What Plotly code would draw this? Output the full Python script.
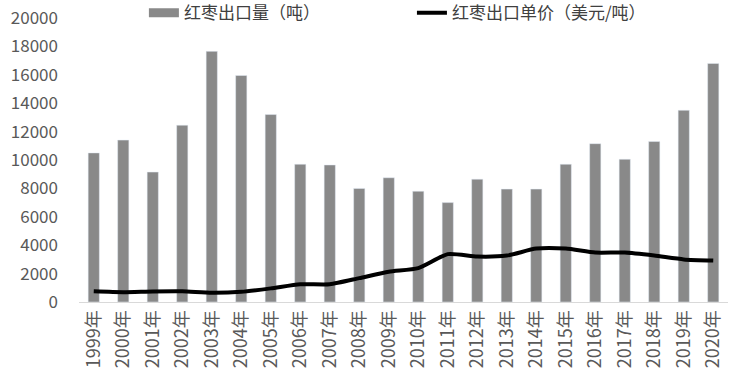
import plotly.graph_objects as go

years = ["1999年", "2000年", "2001年", "2002年", "2003年", "2004年", "2005年", "2006年",
         "2007年", "2008年", "2009年", "2010年", "2011年", "2012年", "2013年", "2014年",
         "2015年", "2016年", "2017年", "2018年", "2019年", "2020年"]
export_volume = [10500, 11400, 9150, 12450, 17650, 15950, 13200, 9700, 9650, 8000, 8750,
                 7800, 7000, 8650, 7950, 7950, 9700, 11150, 10050, 11300, 13500, 16800]
export_price = [750, 690, 740, 750, 650, 720, 960, 1250, 1250, 1680, 2130,
                2380, 3370, 3200, 3270, 3760, 3760, 3480, 3480, 3270, 3000, 2920]
y_ticks = [0, 2000, 4000, 6000, 8000, 10000, 12000, 14000, 16000, 18000, 20000]
y_ticktext = [str(v) for v in y_ticks]

name_vol = "红枣出口量（吨）"
name_price = "红枣出口单价（美元/吨）"
font_family = "Noto Sans CJK SC, DejaVu Sans, sans-serif"

fig = go.Figure()
fig.add_trace(go.Bar(x=years, y=export_volume, name=name_vol, marker_color="#898989",
                     showlegend=False))
# legend entry drawn as a wide gray swatch
fig.add_trace(go.Scatter(x=[None], y=[None], mode="lines", name=name_vol,
                         line=dict(color="#898989", width=9), legend="legend"))
fig.add_trace(go.Scatter(x=years, y=export_price, name=name_price, mode="lines",
                         line=dict(color="#000000", width=4, shape="spline", smoothing=0.6),
                         legend="legend2"))

legend_common = dict(font=dict(size=17, color="#404040"), bgcolor="rgba(0,0,0,0)",
                     yanchor="top", y=1.08, xanchor="left", orientation="h")

fig.update_layout(
    width=733, height=381,
    margin=dict(l=79, r=5, t=18, b=79, autoexpand=False),
    plot_bgcolor="white", paper_bgcolor="white",
    bargap=0.62,
    font=dict(family=font_family, size=16, color="#595959"),
    legend=dict(x=0.100, **legend_common),
    legend2=dict(x=0.513, **legend_common),
    xaxis=dict(type="category", tickangle=-90, showline=True, linecolor="#d9d9d9",
               linewidth=1, ticks="", showgrid=False, automargin=False,
               tickfont=dict(size=18, color="#595959")),
    yaxis=dict(range=[0, 20000], tickvals=y_ticks, ticktext=y_ticktext, showgrid=False,
               zeroline=False, showline=False, ticks="", automargin=False,
               tickfont=dict(size=17, color="#595959"), ticklabelstandoff=20),
)

fig.write_html("out.html", config={"displayModeBar": False},
               post_script="document.body.style.margin='0';")
